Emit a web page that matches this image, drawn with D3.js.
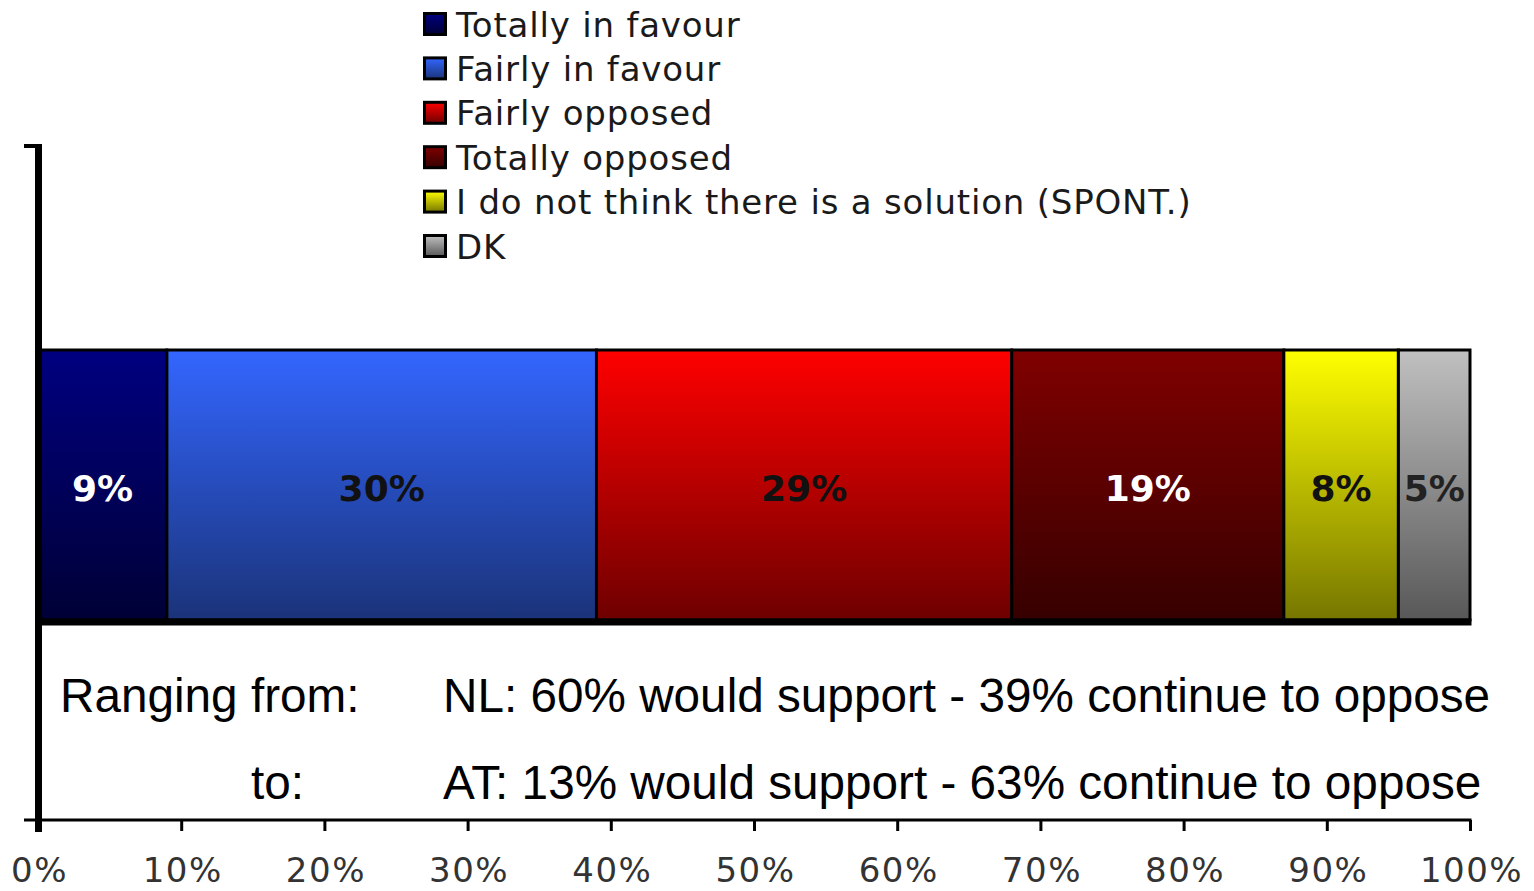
<!DOCTYPE html>
<html>
<head>
<meta charset="utf-8">
<script src="https://cdn.jsdelivr.net/npm/d3@7"></script>
<style>
  html, body { margin: 0; padding: 0; background: #fff; }
  svg { display: block; }
</style>
</head>
<body>
<svg id="chart" width="1534" height="891"></svg>
<script>
// ---- data ----
const categories = ["Totally in favour", "Fairly in favour", "Fairly opposed", "Totally opposed",
                    "I do not think there is a solution (SPONT.)", "DK"];
const values = [9, 30, 29, 19, 8, 5];
const topColors = ["#000080", "#3366FF", "#FF0000", "#800000", "#FFFF00", "#C0C0C0"];
const bottomColors = ["#000036", "#1A3379", "#6E0000", "#360000", "#767600", "#585858"];
const labelColors = ["#ffffff", "#111111", "#111111", "#ffffff", "#111111", "#222222"];
const tickValues = [0, 10, 20, 30, 40, 50, 60, 70, 80, 90, 100];
const tickLabels = ["0%", "10%", "20%", "30%", "40%", "50%", "60%", "70%", "80%", "90%", "100%"];
const noteLeft = ["Ranging from:", "to:"];
const noteRight = ["NL: 60% would support - 39% continue to oppose",
                   "AT: 13% would support - 63% continue to oppose"];

// ---- layout ----
const svg = d3.select("#chart");
const x = d3.scaleLinear().domain([0, 100]).range([38, 1470]);
const barTop = 350, barBottom = 620;
const axisY = 820;

const defs = svg.append("defs");
categories.forEach((c, i) => {
  const g = defs.append("linearGradient")
    .attr("id", "grad" + i).attr("x1", 0).attr("y1", 0).attr("x2", 0).attr("y2", 1);
  g.append("stop").attr("offset", "0%").attr("stop-color", topColors[i]);
  g.append("stop").attr("offset", "100%").attr("stop-color", bottomColors[i]);
});

// stacked positions
const stack = [];
let acc = 0;
values.forEach((v, i) => { stack.push({ i, start: acc, end: acc + v, v }); acc += v; });

// bars
svg.append("g").selectAll("rect")
  .data(stack).join("rect")
  .attr("x", d => x(d.start))
  .attr("y", barTop)
  .attr("width", d => x(d.end) - x(d.start))
  .attr("height", barBottom - barTop)
  .attr("fill", d => `url(#grad${d.i})`)
  .attr("stroke", "#000")
  .attr("stroke-width", 3);

// thicker bottom edge of the bar
svg.append("line")
  .attr("x1", x(0)).attr("x2", x(100) + 1.5)
  .attr("y1", barBottom + 2).attr("y2", barBottom + 2)
  .attr("stroke", "#000").attr("stroke-width", 7);

// bar labels
svg.append("g").selectAll("text")
  .data(stack).join("text")
  .attr("x", d => (x(d.start) + x(d.end)) / 2)
  .attr("y", 501)
  .attr("text-anchor", "middle")
  .attr("font-family", "DejaVu Sans, Verdana, sans-serif")
  .attr("font-weight", "bold")
  .attr("font-size", 36)
  .attr("fill", d => labelColors[d.i])
  .text(d => d.v + "%");

// x axis
const xAxis = d3.axisBottom(x)
  .tickValues(tickValues)
  .tickFormat((d, i) => tickLabels[i])
  .tickSize(11)
  .tickSizeOuter(0)
  .tickPadding(27);
const ax = svg.append("g").attr("transform", `translate(0,${axisY})`).call(xAxis);
ax.select(".domain").remove();
ax.selectAll(".tick line").attr("stroke", "#000").attr("stroke-width", 3);
ax.selectAll(".tick text")
  .attr("font-family", "DejaVu Sans, Verdana, sans-serif")
  .attr("font-size", 34)
  .attr("letter-spacing", 1.5)
  .attr("dx", 1)
  .attr("fill", "#333");
svg.append("line")
  .attr("x1", 24).attr("x2", x(100) + 1.5)
  .attr("y1", axisY).attr("y2", axisY)
  .attr("stroke", "#000").attr("stroke-width", 3);

// vertical axis line with top cap
svg.append("line")
  .attr("x1", 38.5).attr("x2", 38.5)
  .attr("y1", 144).attr("y2", 832)
  .attr("stroke", "#000").attr("stroke-width", 7);
svg.append("line")
  .attr("x1", 24).attr("x2", 42)
  .attr("y1", 146).attr("y2", 146)
  .attr("stroke", "#000").attr("stroke-width", 4);

// legend
const legendRowY = d3.scaleLinear().domain([0, 5]).range([24, 246]);
const lg = svg.append("g").selectAll("g")
  .data(categories).join("g")
  .attr("transform", (d, i) => `translate(423,${legendRowY(i)})`);
lg.append("rect")
  .attr("x", 1.5).attr("y", -10.5)
  .attr("width", 21).attr("height", 21)
  .attr("fill", (d, i) => `url(#grad${i})`)
  .attr("stroke", "#000").attr("stroke-width", 3);
lg.append("text")
  .attr("x", 33).attr("y", 12.5)
  .attr("font-family", "DejaVu Sans, Verdana, sans-serif")
  .attr("font-size", 34)
  .attr("letter-spacing", 0.8)
  .attr("fill", "#1a1a1a")
  .text(d => d);

// notes
const noteY = [712, 799];
svg.append("g").selectAll("text")
  .data(noteLeft).join("text")
  .attr("x", (d, i) => i === 0 ? 60 : 304)
  .attr("text-anchor", (d, i) => i === 0 ? "start" : "end")
  .attr("y", (d, i) => noteY[i])
  .attr("font-family", "Liberation Sans, Arial, Helvetica, sans-serif")
  .attr("font-size", 47.7)
  .attr("fill", "#000")
  .text(d => d);
svg.append("g").selectAll("text")
  .data(noteRight).join("text")
  .attr("x", 443)
  .attr("y", (d, i) => noteY[i])
  .attr("font-family", "Liberation Sans, Arial, Helvetica, sans-serif")
  .attr("font-size", 47.7)
  .attr("fill", "#000")
  .text(d => d);
</script>
</body>
</html>
